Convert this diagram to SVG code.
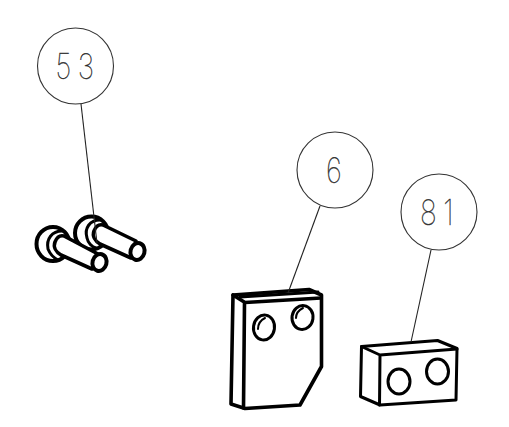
<svg xmlns="http://www.w3.org/2000/svg" width="509" height="427" viewBox="0 0 509 427">
<style>
.bg{fill:#fff}
.bub{fill:none;stroke:#333;stroke-width:1.1}
.lead{fill:none;stroke:#222;stroke-width:1.1}
.t{font-family:"Inter","Noto Sans",sans-serif;font-weight:100;font-size:35px;fill:#222;stroke:#333;stroke-width:.35;text-anchor:middle}
.k{fill:none;stroke:#000;stroke-width:3.6;stroke-linejoin:round;stroke-linecap:round}
.n{fill:none;stroke:#000;stroke-width:3;stroke-linejoin:round;stroke-linecap:round}
.m{fill:none;stroke:#000;stroke-width:2;stroke-linecap:round}
.h{fill:#fff;stroke:#000;stroke-width:4;stroke-linejoin:round;stroke-linecap:round}
.w{fill:#fff;stroke:#000;stroke-width:3.6;stroke-linejoin:round}
</style>
<rect class="bg" width="509" height="427"/>
<g id="part-53">
<g id="bolt-back">
<ellipse class="h" cx="91.500" cy="233" rx="16.500" ry="16.500"/>
<path class="n" d="M100 220C90 220 84 228 87 238C88 243 92 247 96 248"/>
<path class="w" d="M103 225L136 241L131 258L100 244C95 241 92 236 94 231C96 226 99 224 103 225Z"/>
<ellipse class="h" cx="137.500" cy="251.500" rx="7" ry="8.500" transform="rotate(15 137.500 251.500)"/>
</g>
<g id="bolt-front">
<ellipse class="h" cx="53" cy="244" rx="16.500" ry="17"/>
<path class="n" d="M62 231C52 231 46 239 48 249C50 254 54 258 58 260"/>
<path class="w" d="M64 236L98 254L92 269L61 255C56 252 53 247 55 242C57 237 60 235 64 236Z"/>
<ellipse class="h" cx="99.500" cy="262.500" rx="7" ry="8.500" transform="rotate(15 99.500 262.500)"/>
</g>
</g>
<g id="part-6">
<path class="k" d="M233 295L309 289.500L321.500 295L321.500 366.500L300 405L245 408.500L231 404Z"/>
<path class="k" d="M233 295L245 302.500L321 298M244.500 302.500L243.500 408"/>
<path class="n" d="M240 297L318 292"/>
<ellipse class="n" cx="264" cy="327.500" rx="10.500" ry="12.500" transform="rotate(8 264 327.500)"/>
<ellipse class="n" cx="302.500" cy="317.500" rx="10.500" ry="12" transform="rotate(8 302.500 317.500)"/>
<path class="m" d="M258 329C258 324 261 320 265 318M296 318C296 314 299 310 303 308"/>
</g>
<g id="part-81">
<path class="n" d="M361.500 346.500L437.500 340.500L457 348.500L456 400L380 405L360.500 396.500Z"/>
<path class="n" d="M361.500 346.500L380 355L457 349M380 355L379.500 405"/>
<ellipse class="n" cx="399" cy="381.500" rx="11" ry="12.500"/>
<ellipse class="n" cx="437.500" cy="371.500" rx="11" ry="12.500"/>
</g>
<g id="connectors">
<path class="lead" d="M81 104L97 243"/>
<path class="lead" d="M320 206L288 293"/>
<path class="lead" d="M431 250L411 342"/>
</g>
<g id="callout-53"><circle class="bub" cx="75.500" cy="66" r="38"/><text class="t" transform="translate(78 78.500) scale(.8 1)" letter-spacing="8">53</text></g>
<g id="callout-6"><circle class="bub" cx="335" cy="170" r="38"/><text class="t" transform="translate(334 183) scale(.8 1)">6</text></g>
<g id="callout-81"><circle class="bub" cx="439" cy="212" r="38"/><text class="t" transform="translate(440 224.500) scale(.8 1)" letter-spacing="8">81</text></g>
</svg>
